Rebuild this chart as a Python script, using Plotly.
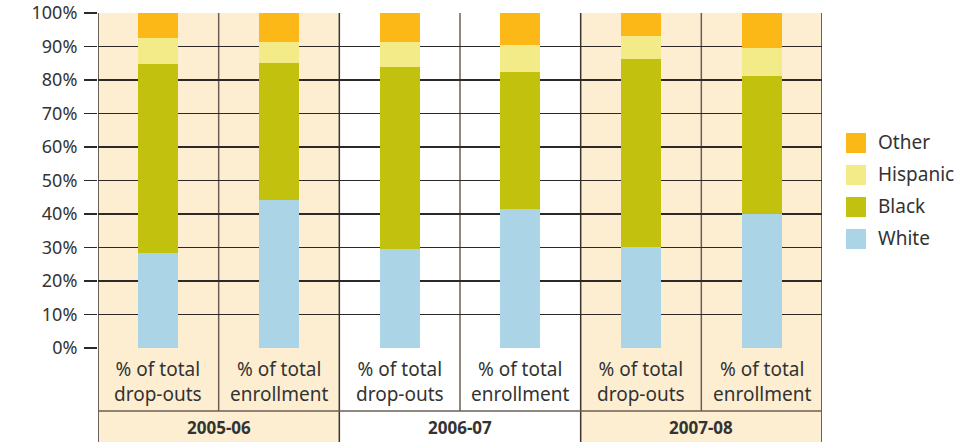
import plotly.graph_objects as go

# ---- data ----
years = ["2005-06", "2006-07", "2007-08"]
measures = ["% of total<br>drop-outs", "% of total<br>enrollment"]
series_names = ["White", "Black", "Hispanic", "Other"]
white = [28.4, 44.2, 29.6, 41.5, 30.1, 40.0]
black = [56.4, 41.0, 54.3, 40.9, 56.2, 41.2]
hispanic = [7.7, 6.1, 7.4, 8.0, 6.8, 8.4]
other = [7.5, 8.7, 8.7, 9.6, 6.9, 10.4]
tick_vals = [0, 10, 20, 30, 40, 50, 60, 70, 80, 90, 100]
tick_text = ["%d%%" % v for v in tick_vals]

colors = {"White": "#abd4e6", "Black": "#c1c10e", "Hispanic": "#f3ea88", "Other": "#fbb816"}
BEIGE = "#fdeed2"
FONT = "Noto Sans"
TXT = "#333333"

values = {"White": white, "Black": black, "Hispanic": hispanic, "Other": other}
n = len(years) * len(measures)
xs = list(range(n))

# screen geometry of the plot area
SL, SR, ST, SB = 98, 822, 13, 348
W, HT = 970, 442

def py(pix):
    return (SB - pix) / (SB - ST)

def px(pix):
    return (pix - SL) / (SR - SL)

fig = go.Figure()
for name in series_names:
    fig.add_trace(go.Bar(x=xs, y=values[name], name=name, marker_color=colors[name],
                         marker_line_width=0, width=0.332, showlegend=False, hoverinfo="skip"))

shapes = []
annotations = []
row1_bot = py(411)
row2_bot = py(445)

for gi, yr in enumerate(years):
    x0 = gi * 2 - 0.5
    x1 = gi * 2 + 1.5
    if gi != 1:
        shapes.append(dict(type="rect", xref="x", yref="paper", x0=x0, x1=x1, y0=row2_bot, y1=1,
                           fillcolor=BEIGE, line_width=0, layer="below"))
    annotations.append(dict(x=gi * 2 + 0.5, y=py(427), xref="x", yref="paper", text="<b>%s</b>" % yr,
                            xanchor="center", yanchor="middle", showarrow=False,
                            font=dict(family=FONT, size=17, color=TXT)))
    for mi, m in enumerate(measures):
        annotations.append(dict(x=gi * 2 + mi, y=py(381), xref="x", yref="paper", text=m,
                                xanchor="center", yanchor="middle", showarrow=False,
                                font=dict(family=FONT, size=19, color=TXT)))

LINE = "#6b5f55"
for k in range(n + 1):
    xv = k - 0.5
    full = (k % 2 == 0)
    shapes.append(dict(type="line", xref="x", yref="paper", x0=xv, x1=xv, y0=row2_bot if full else row1_bot,
                       y1=1, line=dict(color=LINE if not full else "#3a3330", width=1.5), layer="between"))
shapes.append(dict(type="line", xref="x", yref="paper", x0=-0.5, x1=n - 0.5, y0=row1_bot, y1=row1_bot,
                   line=dict(color=LINE, width=1.5)))

leg_centers = [143, 175, 207, 239]
for i, name in enumerate(reversed(series_names)):
    c = leg_centers[i]
    shapes.append(dict(type="rect", xref="paper", yref="paper", x0=px(846), x1=px(866),
                       y0=py(c + 10), y1=py(c - 10), fillcolor=colors[name], line_width=0))
    annotations.append(dict(x=px(876), y=py(c - 1), xref="paper", yref="paper", text=name,
                            xanchor="left", yanchor="middle", showarrow=False,
                            font=dict(family=FONT, size=19, color=TXT)))

fig.update_layout(
    width=W, height=HT,
    autosize=False,
    margin=dict(l=SL, r=W - SR, t=ST, b=HT - SB, pad=0, autoexpand=False),
    barmode="stack",
    plot_bgcolor="white", paper_bgcolor="white",
    shapes=shapes, annotations=annotations,
    showlegend=False,
    hovermode=False,
    xaxis=dict(range=[-0.5, n - 0.5], showticklabels=False, showgrid=False, zeroline=False,
               ticks="", fixedrange=True, automargin=False),
    yaxis=dict(range=[0, 100], tickmode="array", tickvals=tick_vals, ticktext=tick_text,
               showgrid=True, automargin=False, ticklabeloverflow="allow", fixedrange=True,
               gridcolor="#2e2826", gridwidth=1.4, zeroline=False, ticks="outside", ticklen=13,
               tickcolor="#2e2826", tickwidth=1.4, ticklabelstandoff=3,
               tickfont=dict(family=FONT, size=18, color=TXT)),
    font=dict(family=FONT, color=TXT),
)

fig.write_html("out.html", config={"responsive": False, "displayModeBar": False, "staticPlot": True},
               post_script="document.body.style.margin='0';document.body.style.overflow='hidden';")
